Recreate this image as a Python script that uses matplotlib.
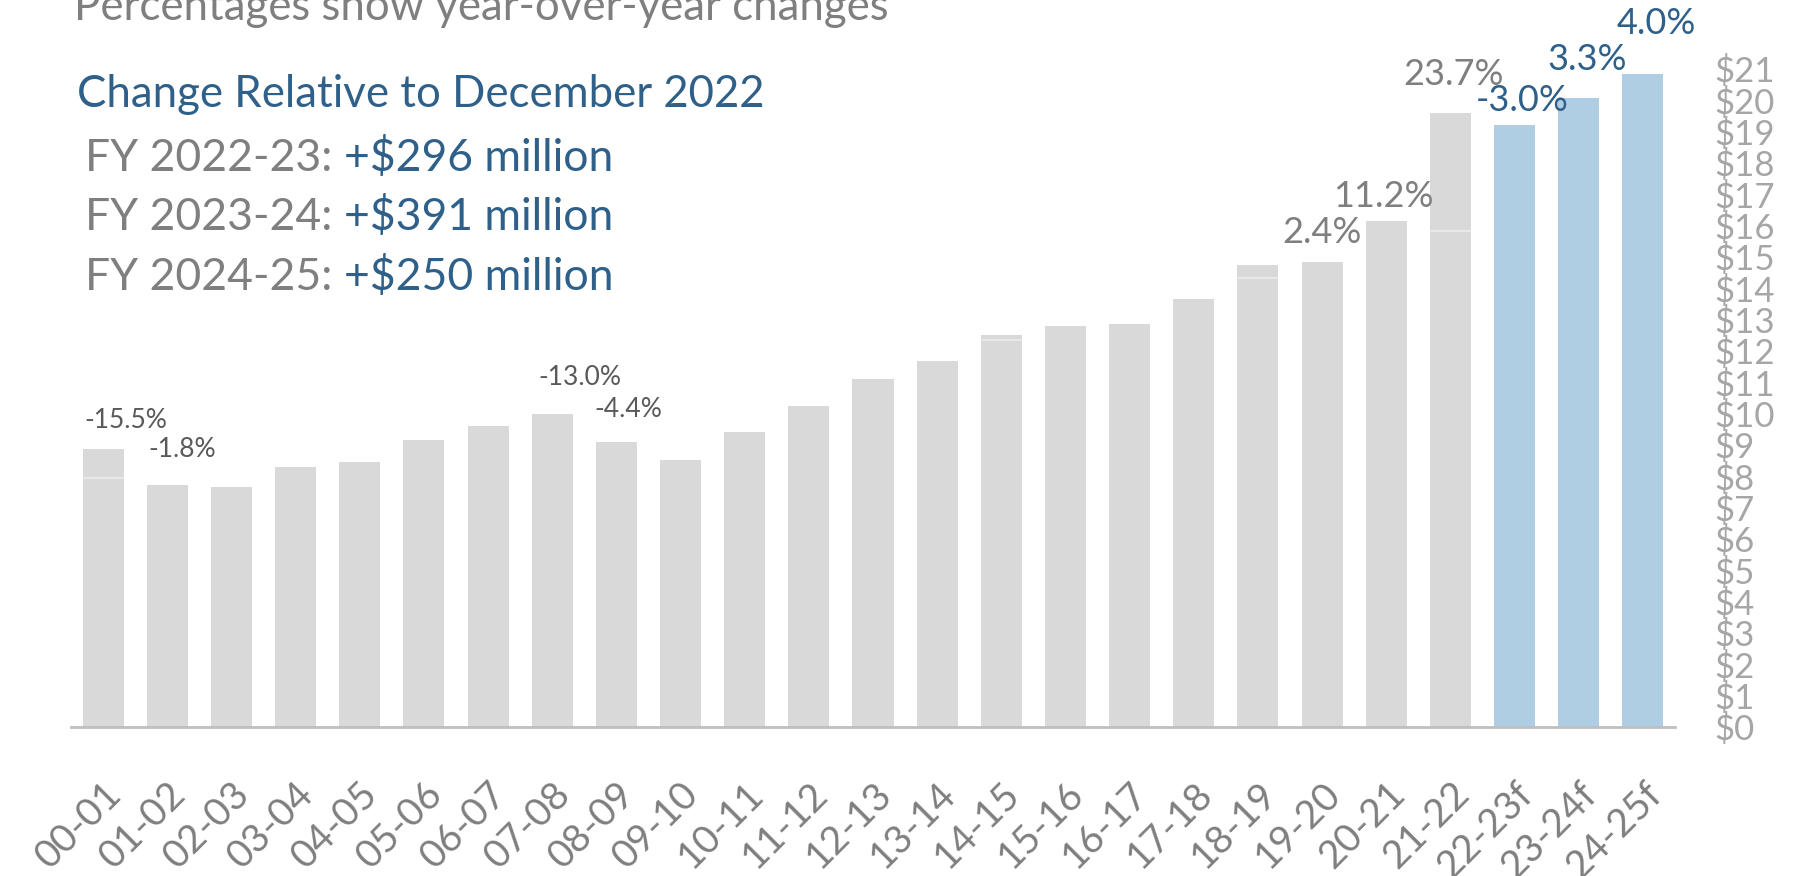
import numpy as np
import matplotlib.pyplot as plt

plt.rcParams['font.family'] = ['Lato', 'DejaVu Sans']

# fiscal years, last three are forecasts
years = ['00-01', '01-02', '02-03', '03-04', '04-05', '05-06', '06-07', '07-08',
         '08-09', '09-10', '10-11', '11-12', '12-13', '13-14', '14-15', '15-16',
         '16-17', '17-18', '18-19', '19-20', '20-21', '21-22', '22-23f', '23-24f',
         '24-25f']
# revenue in billions
revenue = [8.86, 7.73, 7.66, 8.31, 8.46, 9.15, 9.62, 9.99, 9.08, 8.53, 9.41,
           10.24, 11.12, 11.67, 12.50, 12.80, 12.87, 13.67, 14.76, 14.84, 16.15,
           19.58, 19.21, 20.09, 20.85]
forecast = [False] * 22 + [True] * 3
# faint split lines seen inside a few bars
split_idx = [0, 14, 18, 21]
split_val = [7.95, 12.36, 14.33, 15.82]

# year-over-year labels
pct_idx = [0, 1, 7, 8, 19, 20, 21, 22, 23, 24]
pct_txt = ['-15.5%', '-1.8%', '-13.0%', '-4.4%', '2.4%', '11.2%', '23.7%',
           '-3.0%', '3.3%', '4.0%']
pct_grp = ['old', 'old', 'old', 'old', 'mid', 'mid', 'mid', 'fc', 'fc', 'fc']
# label offsets from bar top (pixels)
pct_dx = [23, 15, 28, 12, 0, -3, 3, 8, 8, 13]
pct_dy = [29, 35, 36, 33, 30, 24, 39, 25, 38, 50]

fy_labels = ['FY 2022-23: ', 'FY 2023-24: ', 'FY 2024-25: ']
fy_change = ['+$296 million', '+$391 million', '+$250 million']

GRAY_BAR = '#d9d9d9'
BLUE_BAR = '#afcde3'
BLUE_TXT = '#2e6089'
GRAY_TXT = '#7f7f7f'
DARK_TXT = '#595959'

fig = plt.figure(figsize=(17.93, 8.76), dpi=100)
ax = fig.add_axes([71 / 1793, 149 / 876, 1604 / 1793, 658 / 876])

x = np.arange(len(years))
colors = [BLUE_BAR if f else GRAY_BAR for f in forecast]
ax.bar(x, revenue, width=0.64, color=colors, zorder=2)
ax.hlines(split_val, np.array(split_idx) - 0.32, np.array(split_idx) + 0.32,
          color='#ececec', lw=1.2, zorder=3)

ax.set_xlim(-0.5, 24.5)
ax.set_ylim(0, 21)

for s in ['top', 'left', 'right']:
    ax.spines[s].set_visible(False)
ax.spines['bottom'].set_color('#bfbfbf')
ax.spines['bottom'].set_linewidth(2)

ax.yaxis.tick_right()
ax.set_yticks(range(0, 22))
ax.set_yticklabels(['$' + str(v) for v in range(0, 22)])
ax.tick_params(axis='y', length=0, pad=28, labelsize=25, labelcolor='#a6a6a6')

ax.set_xticks(x)
ax.set_xticklabels(years, rotation=45, ha='right', va='top',
                   rotation_mode='anchor')
ax.tick_params(axis='x', length=0, pad=35, labelsize=28, labelcolor=GRAY_TXT)

grp_color = {'old': DARK_TXT, 'mid': GRAY_TXT, 'fc': BLUE_TXT}
grp_size = {'old': 19, 'mid': 26, 'fc': 26}
for i, t, g, dx, dy in zip(pct_idx, pct_txt, pct_grp, pct_dx, pct_dy):
    ax.annotate(t, (x[i], revenue[i]), xytext=(dx * 0.72, dy * 0.72),
                textcoords='offset points', ha='center', va='center',
                color=grp_color[g], fontsize=grp_size[g], zorder=4)

fig.text(74 / 1793, 1 - 20 / 876, 'Percentages show year-over-year changes',
         fontsize=31.5, color=GRAY_TXT, va='baseline')
fig.text(77 / 1793, 1 - 107 / 876, 'Change Relative to December 2022',
         fontsize=31.5, color=BLUE_TXT, va='baseline')
for k, (lab, chg) in enumerate(zip(fy_labels, fy_change)):
    t = fig.text(85 / 1793, 1 - (171 + 59.5 * k) / 876, lab,
                 fontsize=32, color=GRAY_TXT, va='baseline')
    ax.annotate(chg, xy=(1, 0), xycoords=t, va='bottom', ha='left',
                fontsize=32, color=BLUE_TXT, annotation_clip=False)

fig.savefig('out.png', dpi=100)
